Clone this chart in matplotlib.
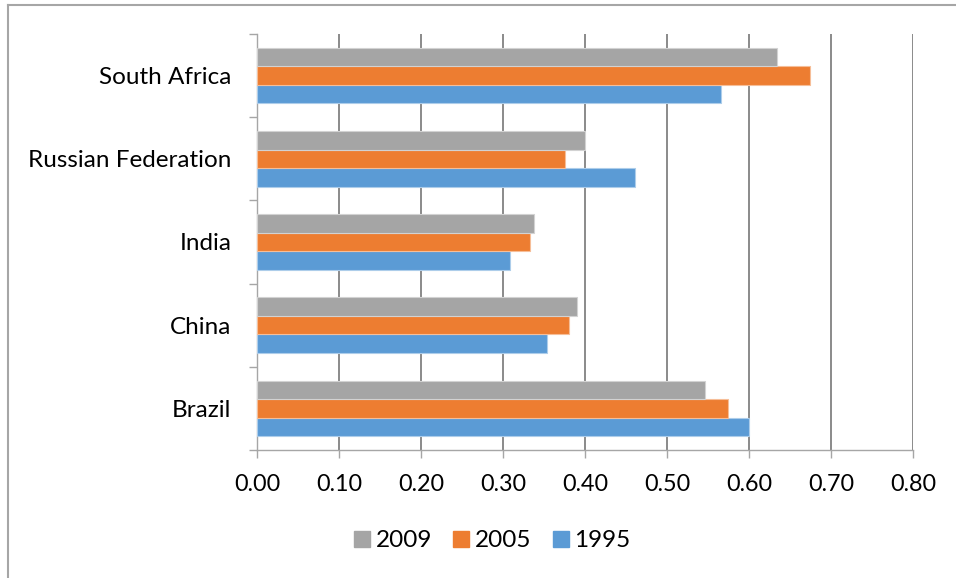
import matplotlib
matplotlib.use("Agg")
import matplotlib.pyplot as plt
from matplotlib.lines import Line2D
import numpy as np

plt.rcParams['font.family'] = ['Lato', 'DejaVu Sans']

countries = ["Brazil", "China", "India", "Russian Federation", "South Africa"]
years = ["2009", "2005", "1995"]
values_2009 = [0.546, 0.390, 0.338, 0.400, 0.634]
values_2005 = [0.574, 0.380, 0.333, 0.375, 0.674]
values_1995 = [0.600, 0.354, 0.308, 0.461, 0.566]
x_ticks = [0.00, 0.10, 0.20, 0.30, 0.40, 0.50, 0.60, 0.70, 0.80]

colors = {"2009": "#A5A5A5", "2005": "#ED7D31", "1995": "#5B9BD5"}
edges = {"2009": "#D2D2D2", "2005": "#F6BE98", "1995": "#ADCDEA"}

fig = plt.figure(figsize=(9.56, 5.78), dpi=100)
ax = fig.add_axes([257 / 956, 1 - 450 / 578, (913 - 257) / 956, (450 - 34) / 578])

y = np.arange(len(countries))
h = 1 / 4.5
series = [("1995", values_1995, -h), ("2005", values_2005, 0.0), ("2009", values_2009, h)]
for name, vals, off in series:
    ax.barh(y + off, vals, height=h, color=colors[name], edgecolor=edges[name],
            linewidth=0.8, zorder=3, label=name)

ax.set_xlim(0, 0.80)
ax.set_ylim(-0.5, len(countries) - 0.5)

ax.set_xticks(x_ticks)
ax.set_xticklabels([f"{v:.2f}" for v in x_ticks], fontsize=16.8)
ax.xaxis.grid(True, color="#8A8A8A", linewidth=1.4, zorder=0)
ax.tick_params(axis="x", length=5.5, width=1.0, color="#A6A6A6", pad=12, direction="out")

ax.set_yticks(y)
ax.set_yticklabels(countries, fontsize=17.5)
ax.set_yticks(np.arange(-0.5, len(countries)), minor=True)
ax.tick_params(axis="y", which="major", length=0, pad=18.5)
ax.tick_params(axis="y", which="minor", length=6, width=1.0, color="#A6A6A6")

for side in ("top", "right"):
    ax.spines[side].set_visible(False)
for side in ("left", "bottom"):
    ax.spines[side].set_color("#A6A6A6")
    ax.spines[side].set_linewidth(1.0)

handles = [Line2D([0], [0], marker="s", linestyle="none", markersize=11,
                  markerfacecolor=colors[n], markeredgecolor=colors[n]) for n in years]
fig.legend(handles, years, loc="center", bbox_to_anchor=(492.5 / 956, 1 - 540.5 / 578),
           ncol=3, frameon=False, fontsize=17.5, handletextpad=0.25,
           columnspacing=0.9, handlelength=0.62, borderpad=0, borderaxespad=0)

# chart frame edges
fig.add_artist(Line2D([8 / 956, 8 / 956], [0, 1 - 5 / 578], transform=fig.transFigure,
                      color="#A6A6A6", linewidth=1.5))
fig.add_artist(Line2D([8 / 956, 1], [1 - 5 / 578, 1 - 5 / 578], transform=fig.transFigure,
                      color="#A6A6A6", linewidth=1.5))

fig.savefig("out.png", dpi=100, facecolor="white")
